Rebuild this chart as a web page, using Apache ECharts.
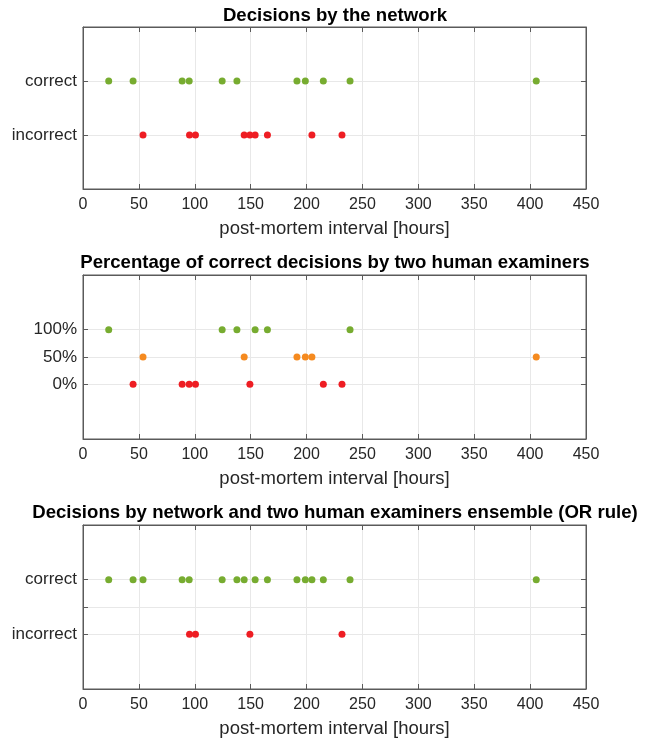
<!DOCTYPE html>
<html><head><meta charset="utf-8">
<script src="https://cdn.jsdelivr.net/npm/echarts@6/dist/echarts.min.js"></script>
<style>html,body{margin:0;padding:0;background:#fff}#c{width:647px;height:740px}</style>
</head><body><div id="c"></div>
<script>
// ---- data ----
const xMin = 0, xMax = 450, xStep = 50;
const titles = [
  'Decisions by the network',
  'Percentage of correct decisions by two human examiners',
  'Decisions by network and two human examiners ensemble (OR rule)'
];
const xAxisName = 'post-mortem interval [hours]';

// Panel 1: network
const netCorrect = [23, 44.8, 88.7, 95.0, 124.5, 137.7, 191.4, 198.9, 215.0, 238.9, 405.5];
const netIncorrect = [53.7, 95.3, 100.6, 144.2, 149.3, 154, 165, 204.8, 231.7];
const netYTicks = [0, 1];
const netYLabels = ['incorrect', 'correct'];

// Panel 2: human examiners (fraction correct)
const hum100 = [23, 124.5, 137.7, 154, 165, 238.9];
const hum50 = [53.7, 144.2, 191.4, 198.9, 204.8, 405.5];
const hum0 = [44.8, 88.7, 95.0, 100.6, 149.3, 215.0, 231.7];
const humYTicks = [0, 0.5, 1];
const humYLabels = ['0%', '50%', '100%'];

// Panel 3: ensemble
const ensCorrect = [23, 44.8, 53.7, 88.7, 95.0, 124.5, 137.7, 144.2, 154, 165, 191.4, 198.9, 204.8, 215.0, 238.9, 405.5];
const ensIncorrect = [95.3, 100.6, 149.3, 231.7];
const ensYTicks = [0, 0.5, 1];
const ensYLabels = ['incorrect', '', 'correct'];

// ---- style ----
const GREEN = '#77AC30', RED = '#EE1D23', ORANGE = '#F58A1F';
const TXT = '#262626', AX = '#5a5a5a', GRIDC = '#e8e8e8';
const FONT = '"Liberation Sans", Arial, sans-serif';

const grids = [
  {left: 83, top: 27, width: 503, height: 162},
  {left: 83, top: 275, width: 503, height: 164},
  {left: 83, top: 525, width: 503, height: 164}
];
const yDefs = [
  {ticks: netYTicks, labels: netYLabels},
  {ticks: humYTicks, labels: humYLabels},
  {ticks: ensYTicks, labels: ensYLabels}
];
const titleTops = [1, 248, 498];

const option = {
  animation: false,
  backgroundColor: '#fff',
  title: titles.map((t, i) => ({
    text: t, left: 330 , top: titleTops[i], textAlign: 'center',
    textStyle: {fontFamily: FONT, fontWeight: 'bold', fontSize: 18.6, color: '#000'}
  })),
  grid: grids.map(g => Object.assign({show: true, borderColor: AX, borderWidth: 1, backgroundColor: '#fff'}, g)),
  xAxis: [],
  yAxis: [],
  series: []
};

grids.forEach((g, i) => {
  option.xAxis.push({
    type: 'value', gridIndex: i, min: xMin, max: xMax, interval: xStep, position: 'bottom',
    name: xAxisName, nameLocation: 'middle', nameGap: 30,
    nameTextStyle: {fontFamily: FONT, fontSize: 18.5, color: TXT},
    axisLine: {show: true, onZero: false, lineStyle: {color: AX}},
    axisTick: {show: true, inside: true, length: 5, lineStyle: {color: AX}},
    axisLabel: {fontFamily: FONT, fontSize: 16, color: TXT, margin: 8, showMinLabel: true, showMaxLabel: true},
    splitLine: {show: true, lineStyle: {color: GRIDC}}
  });
  option.xAxis.push({
    type: 'value', gridIndex: i, min: xMin, max: xMax, interval: xStep, position: 'top',
    axisLine: {show: true, onZero: false, lineStyle: {color: AX}},
    axisTick: {show: true, inside: true, length: 5, lineStyle: {color: AX}},
    axisLabel: {show: false}, splitLine: {show: false}
  });
  const yd = yDefs[i];
  const fmt = v => { const k = yd.ticks.indexOf(v); return k >= 0 ? yd.labels[k] : ''; };
  option.yAxis.push({
    type: 'value', gridIndex: i, min: -1, max: 2, position: 'left',
    axisLine: {show: true, onZero: false, lineStyle: {color: AX}},
    axisTick: {show: true, inside: true, length: 5, customValues: yd.ticks, lineStyle: {color: AX}},
    axisLabel: {fontFamily: FONT, fontSize: 17, color: TXT, margin: 6, customValues: yd.ticks, formatter: fmt},
    splitLine: {show: true, lineStyle: {color: GRIDC}}
  });
  option.yAxis.push({
    type: 'value', gridIndex: i, min: -1, max: 2, position: 'right',
    axisLine: {show: true, onZero: false, lineStyle: {color: AX}},
    axisTick: {show: true, inside: true, length: 5, customValues: yd.ticks, lineStyle: {color: AX}},
    axisLabel: {show: false}, splitLine: {show: false}
  });
});

function pts(xs, y) { return xs.map(x => [x, y]); }
function sc(i, xs, y, color) {
  return {
    type: 'scatter', xAxisIndex: i * 2, yAxisIndex: i * 2, symbol: 'circle', symbolSize: 7,
    itemStyle: {color: color, opacity: 1}, data: pts(xs, y), z: 5
  };
}
option.series.push(sc(0, netCorrect, 1, GREEN));
option.series.push(sc(0, netIncorrect, 0, RED));
option.series.push(sc(1, hum100, 1, GREEN));
option.series.push(sc(1, hum50, 0.5, ORANGE));
option.series.push(sc(1, hum0, 0, RED));
option.series.push(sc(2, ensCorrect, 1, GREEN));
option.series.push(sc(2, ensIncorrect, 0, RED));

const chart = echarts.init(document.getElementById('c'), null, {renderer: 'canvas'});
chart.setOption(option);
</script></body></html>
